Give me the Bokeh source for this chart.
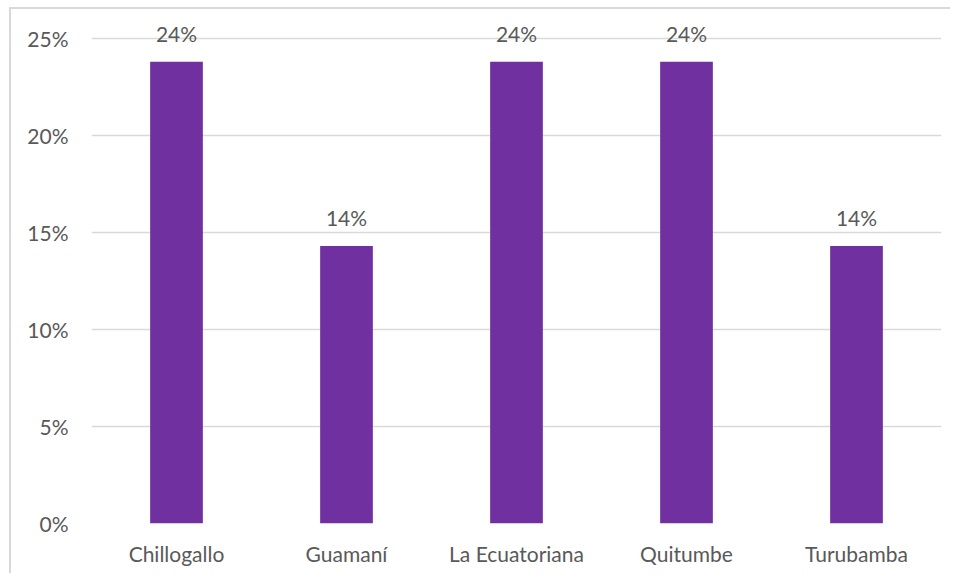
from bokeh.plotting import figure
from bokeh.models import ColumnDataSource, NumeralTickFormatter, FixedTicker, Range1d
from bokeh.core.properties import value
from bokeh.embed import file_html
from bokeh.resources import INLINE

categories = ["Chillogallo", "Guamaní", "La Ecuatoriana", "Quitumbe", "Turubamba"]
values = [0.238, 0.143, 0.238, 0.238, 0.143]
labels = [f"{round(v * 100):.0f}%" for v in values]
y_ticks = [0, 0.05, 0.10, 0.15, 0.20, 0.25]

src = ColumnDataSource(dict(cat=categories, val=values, lab=labels))

FONT = "Lato"
TXT = "#595959"
GRID = "#D9D9D9"

# axis maximum is 25%; a little headroom is kept above it for the data labels
p = figure(x_range=categories, y_range=Range1d(0, 0.2603),
           width=941, height=566, output_backend="svg", toolbar_location=None,
           min_border_left=80, min_border_right=11, min_border_top=9, min_border_bottom=52)
p.styles = {"border-left": "2px solid #D9D9D9", "border-top": "2px solid #D9D9D9",
            "margin-left": "9px", "margin-top": "7px"}

p.vbar(x="cat", top="val", width=0.31, source=src, color="#7030A0", line_color=None)
p.text(x="cat", y="val", text="lab", source=src, text_align="center", text_baseline="bottom",
       y_offset=-16, text_font=value(FONT), text_font_size="21px", text_color=TXT)

p.outline_line_color = None
p.xgrid.grid_line_color = None
p.ygrid.grid_line_color = GRID
p.ygrid.grid_line_width = 1.5
p.ygrid.ticker = FixedTicker(ticks=y_ticks)
p.yaxis.ticker = FixedTicker(ticks=y_ticks)
p.yaxis.formatter = NumeralTickFormatter(format="0%")
for ax in (p.xaxis[0], p.yaxis[0]):
    ax.axis_line_color = None
    ax.major_tick_line_color = None
    ax.minor_tick_line_color = None
    ax.major_label_text_font = FONT
    ax.major_label_text_font_size = "21px"
    ax.major_label_text_color = TXT
p.yaxis.major_label_standoff = 17
p.xaxis.major_label_standoff = 11
p.x_range.range_padding = 0

open("out.html", "w").write(file_html(p, INLINE))
